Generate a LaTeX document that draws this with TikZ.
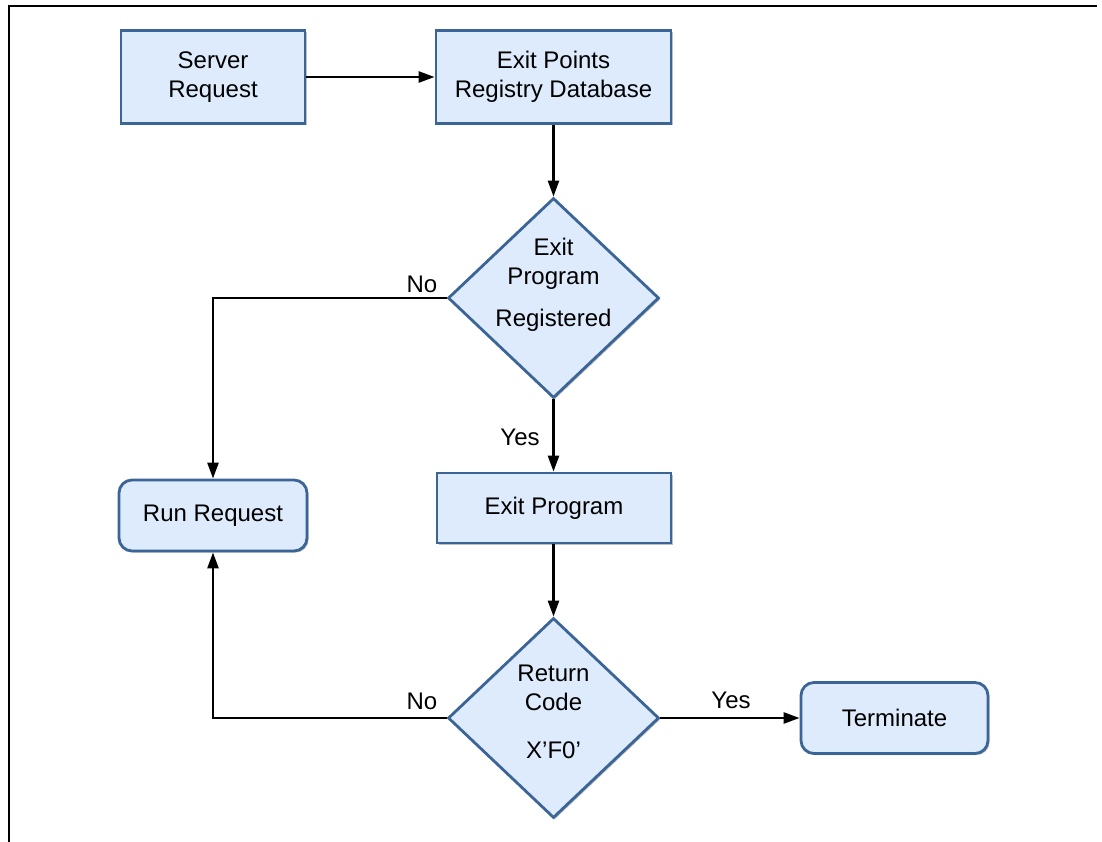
\documentclass[tikz,border=0pt]{standalone}
\usepackage{fontspec}
\setmainfont{Liberation Sans}
\usetikzlibrary{shapes.geometric,arrows.meta,shadows}
\definecolor{boxfill}{HTML}{DDEBFC}
\definecolor{boxline}{HTML}{3A6596}
\tikzset{
  base/.style={draw=boxline, fill=boxfill, line width=2.8pt, inner sep=0pt,
    drop shadow={opacity=0.5, shadow xshift=1.6pt, shadow yshift=-1.6pt},
    font=\fontsize{24}{28.5}\selectfont, align=center},
  procbox/.style={base, rectangle},
  roundbox/.style={base, rectangle, rounded corners=13pt},
  decision/.style={base, diamond, aspect=1.05},
  dtext/.style={font=\fontsize{24}{28.5}\selectfont, align=center, inner sep=0pt},
  lbl/.style={font=\fontsize{24}{28.5}\selectfont, inner sep=0pt},
  flow/.style={line width=2.5pt, -{Triangle[length=16pt,width=11pt]}},
  frameline/.style={line width=2.2pt}
}
\begin{document}
\begin{tikzpicture}[x=1pt,y=-1pt]
\useasboundingbox (0,0) rectangle (1102,842);

% outer frame (top and left edges)
\coordinate (fa) at (9,842);
\coordinate (fb) at (9,6);
\coordinate (fc) at (1097,6);
\draw[frameline] (fa) -- (fb) -- (fc);

% process and decision shapes
\node[procbox, minimum width=184pt, minimum height=93pt] (sr) at (213,77) {Server\\Request};
\node[procbox, minimum width=235pt, minimum height=93pt] (ep) at (553.5,77) {Exit Points\\Registry Database};
\node[decision, minimum width=211pt, minimum height=200pt] (d1) at (553.5,298) {};
\node[dtext] (d1t) at (553.5,285) {Exit\\Program\\[14pt]Registered};
\node[roundbox, minimum width=188pt, minimum height=71pt] (rr) at (213,515.5) {Run Request};
\node[procbox, minimum width=234pt, minimum height=70pt] (xp) at (554,508) {Exit Program};
\node[decision, minimum width=211pt, minimum height=200pt] (d2) at (553.5,718) {};
\node[dtext] (d2t) at (553.5,712) {Return\\Code\\[20pt]X’F0’};
\node[roundbox, minimum width=187pt, minimum height=71pt] (tm) at (894.5,718) {Terminate};

% connectors
\draw[flow] (sr.east) -- (ep.west);
\draw[flow] (ep.south) -- (d1.north);
\draw[flow] (d1.west) -| (rr.north);
\draw[flow] (d1.south) -- (xp.north -| d1.south);
\draw[flow] (xp.south -| d2.north) -- (d2.north);
\draw[flow] (d2.west) -| (rr.south);
\draw[flow] (d2.east) -- (tm.west);

% branch labels
\node[lbl, anchor=base] (no1) at (422,292) {No};
\node[lbl, anchor=base] (yes1) at (520,445) {Yes};
\node[lbl, anchor=base] (no2) at (422,709) {No};
\node[lbl, anchor=base] (yes2) at (731,708) {Yes};
\end{tikzpicture}
\end{document}
